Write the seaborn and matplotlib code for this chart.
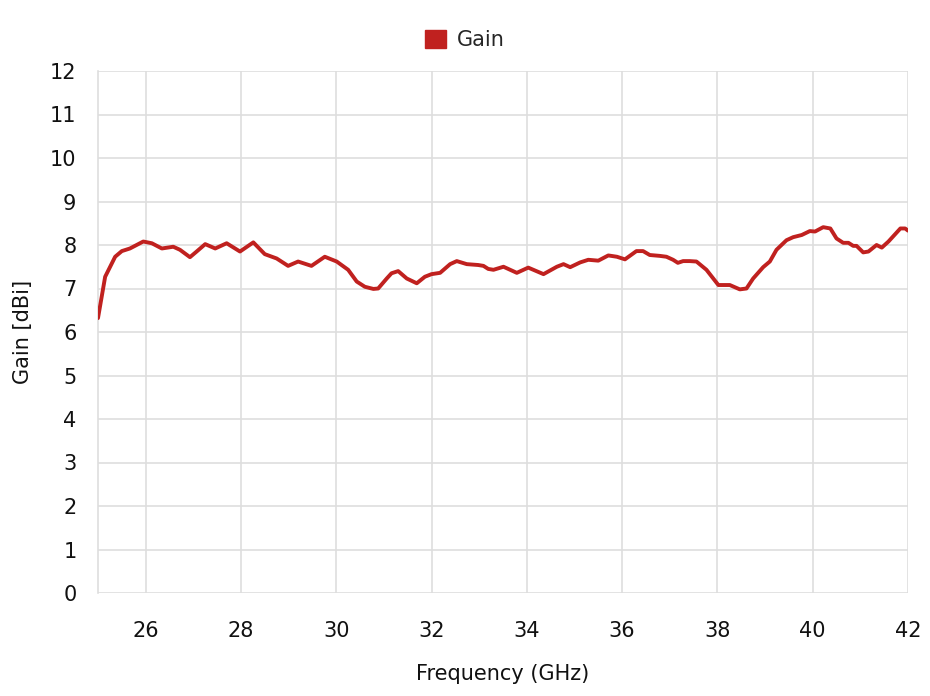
import matplotlib
matplotlib.use("Agg")
import matplotlib.pyplot as plt
import seaborn as sns
import pandas as pd
from matplotlib.patches import Patch

freq = [25.0, 25.15, 25.36, 25.5, 25.67, 25.95, 26.13, 26.34, 26.58, 26.72, 26.93,
        27.07, 27.25, 27.46, 27.70, 27.98, 28.26, 28.50, 28.75, 28.99, 29.20, 29.48,
        29.76, 30.01, 30.25, 30.43, 30.60, 30.78, 30.88, 31.06, 31.16, 31.30, 31.48,
        31.69, 31.86, 32.00, 32.18, 32.39, 32.53, 32.74, 32.98, 33.09, 33.19, 33.30,
        33.51, 33.79, 34.03, 34.35, 34.63, 34.77, 34.91, 35.12, 35.29, 35.50, 35.71,
        35.89, 36.06, 36.30, 36.44, 36.58, 36.79, 36.93, 37.07, 37.17, 37.28, 37.42,
        37.56, 37.77, 38.02, 38.26, 38.47, 38.61, 38.75, 38.96, 39.10, 39.24, 39.45,
        39.59, 39.77, 39.94, 40.05, 40.22, 40.37, 40.50, 40.64, 40.75, 40.85, 40.92,
        41.06, 41.17, 41.34, 41.45, 41.59, 41.84, 41.94, 42.0]
gain = [6.32, 7.27, 7.73, 7.86, 7.92, 8.08, 8.04, 7.92, 7.96, 7.89, 7.72,
        7.85, 8.02, 7.92, 8.04, 7.85, 8.06, 7.79, 7.69, 7.52, 7.62, 7.52,
        7.73, 7.62, 7.43, 7.16, 7.04, 6.99, 7.00, 7.23, 7.35, 7.40, 7.23,
        7.12, 7.27, 7.33, 7.36, 7.56, 7.63, 7.56, 7.54, 7.52, 7.45, 7.43,
        7.50, 7.36, 7.48, 7.33, 7.50, 7.56, 7.49, 7.60, 7.66, 7.64, 7.76,
        7.73, 7.67, 7.86, 7.86, 7.77, 7.75, 7.73, 7.66, 7.59, 7.63, 7.63,
        7.62, 7.43, 7.08, 7.08, 6.98, 7.00, 7.23, 7.49, 7.62, 7.89, 8.11,
        8.18, 8.23, 8.32, 8.31, 8.41, 8.38, 8.15, 8.05, 8.05, 7.98, 7.98,
        7.83, 7.85, 8.00, 7.94, 8.08, 8.38, 8.38, 8.33]

x_ticks = [26, 28, 30, 32, 34, 36, 38, 40, 42]
y_ticks = list(range(0, 13))
series_name = "Gain"

df = pd.DataFrame({"Frequency": freq, "Gain": gain})

sns.set_theme(style="white")
plt.rcParams['font.family'] = ['DejaVu Sans']

line_color = "#C0211F"
grid_color = "#DEDEDE"
text_color = "#111111"
fs = 15

fig = plt.figure(figsize=(9.3, 6.96), dpi=100)
ax = fig.add_axes([98/930, 1 - 593/696, 810/930, 522/696])

sns.lineplot(data=df, x="Frequency", y="Gain", ax=ax, color=line_color,
             linewidth=2.8, legend=False)

ax.set_xlim(25, 42)
ax.set_ylim(0, 12)
ax.set_xticks(x_ticks)
ax.set_yticks(y_ticks)
ax.grid(True, color=grid_color, linewidth=1.2)
ax.tick_params(axis="both", length=11.5, width=1.2, color=grid_color,
               labelsize=fs, labelcolor=text_color)
ax.tick_params(axis="y", pad=4)
ax.tick_params(axis="x", pad=9)
for s in ["top", "right", "bottom"]:
    ax.spines[s].set_visible(False)
ax.spines["left"].set_color(grid_color)
ax.spines["left"].set_linewidth(1.2)
ax.spines["left"].set_zorder(0)

ax.set_xlabel("Frequency (GHz)", fontsize=fs, color=text_color, labelpad=16.5)
ax.set_ylabel("Gain [dBi]", fontsize=fs, color=text_color, labelpad=12)

handles = [Patch(facecolor=line_color, edgecolor=line_color, label=series_name)]
fig.legend(handles=handles, loc="center", bbox_to_anchor=(0.5, 1 - 40/696),
           frameon=False, fontsize=fs, handlelength=1.0, handleheight=1.0,
           handletextpad=0.5)

fig.savefig("out.png", dpi=100)
